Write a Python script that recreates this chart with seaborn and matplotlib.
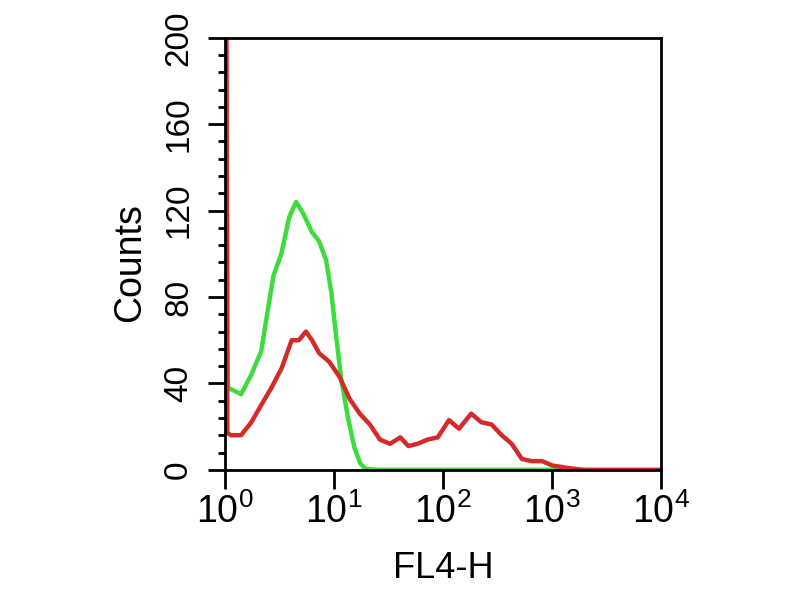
import numpy as np
import pandas as pd
import seaborn as sns
import matplotlib.pyplot as plt
from matplotlib.ticker import FixedLocator, LogLocator, NullFormatter

# Data histogram
green_x = [1.05, 1.055, 1.07, 1.41, 1.75, 2.16, 2.5, 2.8, 3.3, 3.9, 4.5, 5.2,
           6.3, 7.3, 8.5, 9.5, 10.5, 11.7, 13.5, 15.5, 17.5, 19.5, 25, 60,
           200, 800, 1900]
green_y = [118, 60, 38, 35, 44, 55, 75, 90, 100, 117, 124, 119,
           110, 106, 97, 82, 62, 42, 24, 10, 3, 0.5, 0, 0,
           0, 0, 0]

red_x = [1.03, 1.045, 1.055, 1.14, 1.41, 1.75, 2.16, 2.68, 3.32, 4.11, 4.78, 5.55,
         6.31, 7.33, 9.08, 11.3, 13.9, 17.3, 21.4, 26.5, 32.8, 40.7, 48.3,
         58.5, 72.5, 89.8, 114, 141, 182, 226, 280, 347, 429, 532, 659, 816,
         1010, 1336, 1923, 2950, 5000, 10000]
red_y = [260, 110, 17, 16, 16, 22, 30, 38, 47, 60, 60, 64,
         60, 54, 50, 43, 33, 26, 21, 14, 12, 15, 11,
         12, 14, 15, 23, 19, 26, 22, 21, 16, 12, 5, 4, 4,
         2, 1, 0, 0, 0, 0]

x_ticks = [1, 10, 100, 1000, 10000]
x_labels = ["$10^{0}$", "$10^{1}$", "$10^{2}$", "$10^{3}$", "$10^{4}$"]
y_ticks = [0, 40, 80, 120, 160, 200]

sns.set_style("ticks")
plt.rcParams['font.family'] = ['Liberation Sans', 'DejaVu Sans']
plt.rcParams['mathtext.fontset'] = 'custom'
plt.rcParams['mathtext.rm'] = 'Liberation Sans'
plt.rcParams['mathtext.it'] = 'Liberation Sans'
plt.rcParams['text.color'] = 'black'
plt.rcParams['xtick.color'] = 'black'
plt.rcParams['ytick.color'] = 'black'

fig = plt.figure(figsize=(8, 6), dpi=100)
ax = fig.add_axes([0.281, 0.217, 0.545, 0.72])

sns.lineplot(x=green_x, y=green_y, ax=ax, color='#3ddc3d', lw=3.2,
             sort=False, estimator=None)
sns.lineplot(x=red_x, y=red_y, ax=ax, color='#d42a2a', lw=3.2,
             sort=False, estimator=None)

ax.set_xscale('log')
ax.set_xlim(1, 10000)
ax.set_ylim(0, 200)

ax.xaxis.set_major_locator(FixedLocator(x_ticks))
ax.set_xticklabels(x_labels)
ax.xaxis.set_minor_locator(LogLocator(base=10, subs=np.arange(2, 10)))
ax.xaxis.set_minor_formatter(NullFormatter())

ax.yaxis.set_major_locator(FixedLocator(y_ticks))
ax.yaxis.set_minor_locator(FixedLocator(np.arange(0, 201, 8)))
ax.set_yticklabels([str(v) for v in y_ticks])

for s in ax.spines.values():
    s.set_linewidth(2)
    s.set_color('black')

ax.tick_params(axis='x', which='major', length=14, width=2, pad=3,
               labelsize=27, labelcolor='black')
ax.tick_params(axis='x', which='minor', length=8.5, width=2)
ax.tick_params(axis='y', which='major', length=12, width=2, pad=10,
               labelsize=24, labelcolor='black')
ax.tick_params(axis='y', which='minor', length=5, width=2)

for lab in ax.get_yticklabels():
    lab.set_rotation(90)
    lab.set_va('center')
    lab.set_ha('right')
    lab.set_family(['Liberation Sans Narrow', 'Liberation Sans'])

ax.set_xlabel('')
ax.set_ylabel('')
fig.text(0.163, 0.563, 'Counts', rotation=90, ha='center', va='center',
         fontsize=27, color='black')
fig.text(0.554, 0.053, 'FL4-H', ha='center', va='center', fontsize=26,
         color='black')

fig.savefig('out.png', dpi=100)
